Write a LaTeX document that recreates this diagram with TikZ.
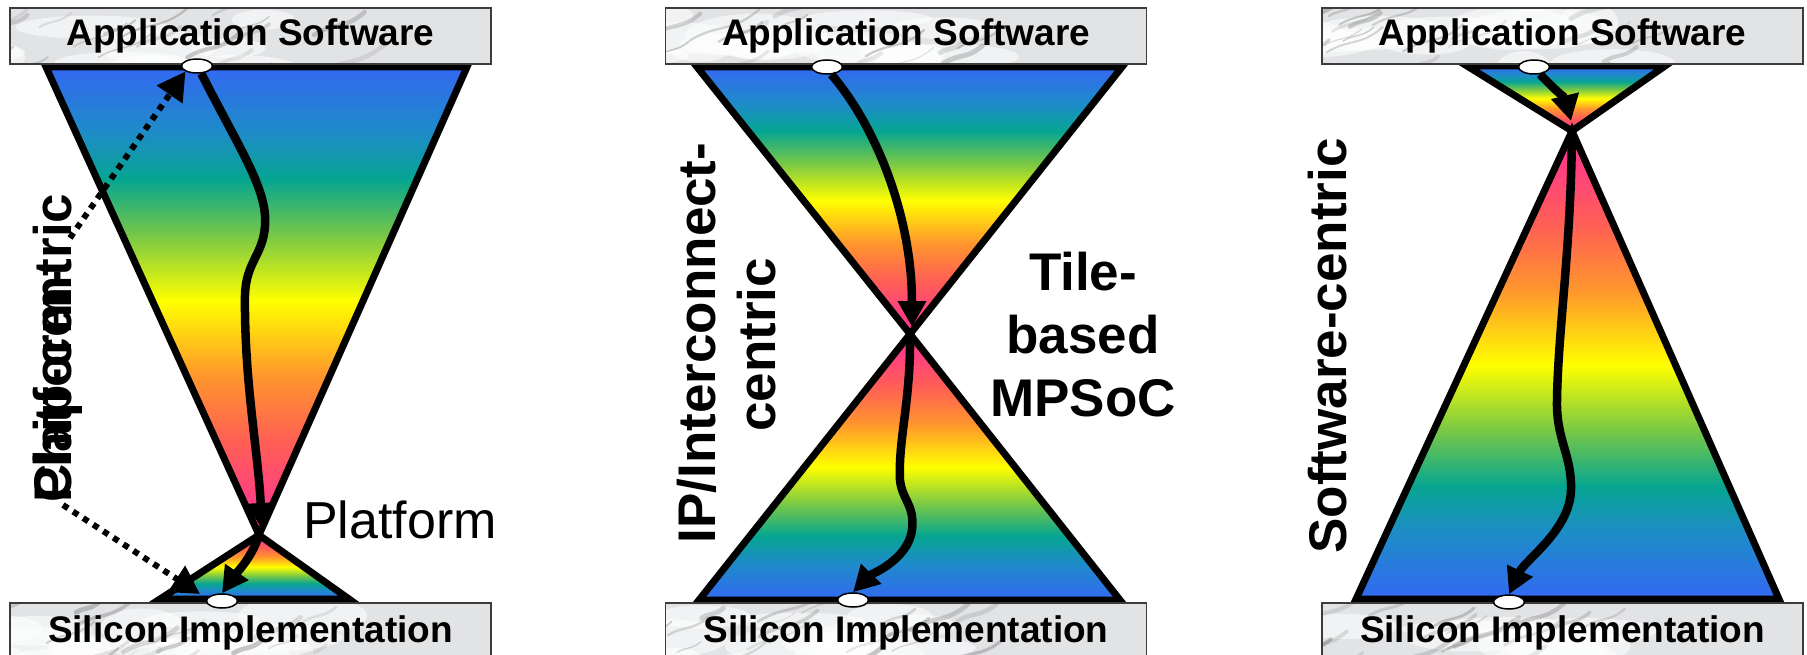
\documentclass[tikz,border=0pt]{standalone}
\usepackage{fontspec}
\setmainfont{Liberation Sans}
\usetikzlibrary{arrows.meta,shapes.geometric}

\definecolor{rbBlue}{RGB}{51,104,242}
\definecolor{rbSky}{RGB}{30,140,200}
\definecolor{rbTeal}{RGB}{6,165,145}
\definecolor{rbGreen}{RGB}{120,200,70}
\definecolor{rbYellow}{RGB}{255,255,0}
\definecolor{rbOrange}{RGB}{255,150,45}
\definecolor{rbRed}{RGB}{255,95,85}
\definecolor{rbPink}{RGB}{255,60,135}
\definecolor{marble}{RGB}{226,227,229}
\definecolor{marbleEdge}{RGB}{60,60,60}

% blue at the base, pink at the tip; 25bp..75bp spans the filled shape
\pgfdeclareverticalshading{rainbow}{100bp}{color(0bp)=(rbBlue); color(25bp)=(rbBlue); color(32bp)=(rbSky); color(37bp)=(rbTeal); color(43bp)=(rbGreen); color(50bp)=(rbYellow); color(58bp)=(rbOrange); color(65bp)=(rbRed); color(72bp)=(rbPink); color(75bp)=(rbPink); color(100bp)=(rbPink)}

\pgfmathsetseed{11}

\begin{document}
\begin{tikzpicture}[x=1pt,y=-1pt,
  cone/.style={draw=black, line width=7pt, line join=miter, shade, shading=rainbow},
  conedown/.style={cone, shading angle=180},
  veined/.style={path picture={
      \begin{scope}[shift={(path picture bounding box.center)}]
        \foreach \k in {1,...,16}{
          \pgfmathsetmacro{\xa}{-260+520*rnd}
          \pgfmathsetmacro{\ya}{-30+60*rnd}
          \pgfmathsetmacro{\len}{25+55*rnd}
          \pgfmathsetmacro{\wd}{8+14*rnd}
          \fill[white, opacity=0.55] (\xa,\ya) ellipse [x radius=\len pt, y radius=\wd pt];
        }
        \foreach \k in {1,...,26}{
          \pgfmathsetmacro{\xa}{-260+520*rnd}
          \pgfmathsetmacro{\ya}{-30+60*rnd}
          \pgfmathsetmacro{\len}{20+50*rnd}
          \pgfmathsetmacro{\wd}{1+4*rnd}
          \pgfmathsetmacro{\op}{0.15+0.25*rnd}
          \draw[black!55, line width=\wd pt, opacity=\op, line cap=round]
            (\xa,\ya) .. controls (\xa+0.4*\len,\ya-0.25*\len) and (\xa+0.6*\len,\ya-0.1*\len) .. (\xa+\len,\ya-0.45*\len);
        }
      \end{scope}}},
  layerbox/.style={draw=marbleEdge, line width=1.5pt, fill=marble, veined, minimum width=481pt,
    minimum height=56pt, inner sep=0pt, font=\fontsize{37}{44}\selectfont\bfseries,
    text height=27pt, text depth=8pt},
  port/.style={ellipse, draw=black, line width=1.5pt, fill=white, minimum width=31pt,
    minimum height=14pt, inner sep=0pt},
  flow/.style={line width=8.5pt, -{Triangle[length=26pt,width=27pt]}},
  hint/.style={line width=6pt, dash pattern=on 6pt off 6pt, -{Triangle[length=28pt,width=30pt]}},
  vlabel/.style={font=\fontsize{53}{60}\selectfont\bfseries, inner sep=0pt, rotate=90}
]
\useasboundingbox (0,0) rectangle (1807,655);

% ---------- corner points of the cones ----------
\coordinate (LtA) at (46,67);   \coordinate (LtB) at (467,67);
\coordinate (Lw)  at (259,535);
\coordinate (LbA) at (160,599); \coordinate (LbB) at (349,599);

\coordinate (MtA) at (697,67);  \coordinate (MtB) at (1122,67);
\coordinate (Mw)  at (910,334);
\coordinate (MbA) at (699,600); \coordinate (MbB) at (1120,600);

\coordinate (RtA) at (1467,66); \coordinate (RtB) at (1665,66);
\coordinate (Rw)  at (1572,131);
\coordinate (RbA) at (1356,599); \coordinate (RbB) at (1779,599);

% ---------- cones ----------
\path[conedown] (LtA) -- (LtB) -- (Lw) -- cycle;
\path[cone]     (Lw) -- (LbB) -- (LbA) -- cycle;
\path[conedown] (MtA) -- (MtB) -- (Mw) -- cycle;
\path[cone]     (Mw) -- (MbB) -- (MbA) -- cycle;
\path[conedown] (RtA) -- (RtB) -- (Rw) -- cycle;
\path[cone]     (Rw) -- (RbB) -- (RbA) -- cycle;

% ---------- layers ----------
\node[layerbox] (Ltop) at (250.5,36) {Application Software};
\node[layerbox, minimum height=60pt] (Lbot) at (250.5,633) {Silicon Implementation};
\node[layerbox] (Mtop) at (906,36) {Application Software};
\node[layerbox, minimum height=60pt] (Mbot) at (906,633) {Silicon Implementation};
\node[layerbox] (Rtop) at (1562.5,36) {Application Software};
\node[layerbox, minimum height=60pt] (Rbot) at (1562.5,633) {Silicon Implementation};

% ---------- entry / exit ports ----------
\node[port] (Lin)  at (197,66) {};
\node[port] (Lout) at (222,601) {};
\node[port] (Min)  at (827,67) {};
\node[port] (Mout) at (853,600) {};
\node[port] (Rin)  at (1534,67) {};
\node[port] (Rout) at (1509,602) {};

% ---------- design flows ----------
\coordinate (LfA) at (265,226);
\coordinate (LfB) at (245,295);
\coordinate (LfEnd) at (262,529);
\draw[flow] (Lin.-60) .. controls (240,150) and (268,190) .. (LfA)
  .. controls (263,255) and (246,262) .. (LfB)
  .. controls (244,380) and (258,450) .. (LfEnd);
\draw[flow] (Lw) .. controls (252,558) and (234,576) .. (Lout.north);

\coordinate (MfEnd) at (912,327);
\draw[flow] (Min.-60) .. controls (875,125) and (912,215) .. (MfEnd);
\coordinate (MfA) at (900,480);
\coordinate (MfB) at (912,530);
\draw[flow] (Mw) .. controls (911,400) and (898,440) .. (MfA)
  .. controls (902,500) and (915,505) .. (MfB)
  .. controls (908,560) and (870,575) .. (Mout.north);

\coordinate (RfEnd) at (1571,121);
\draw[flow] (Rin.-50) .. controls (1550,85) and (1566,100) .. (RfEnd);
\coordinate (RfA) at (1557,400);
\coordinate (RfB) at (1571,490);
\draw[flow] (Rw) .. controls (1571,250) and (1558,330) .. (RfA)
  .. controls (1556,440) and (1572,455) .. (RfB)
  .. controls (1570,530) and (1525,560) .. (Rout.north);

% ---------- dotted hints from the side label ----------
\coordinate (LhA) at (70,238);
\coordinate (LhB) at (63,505);
\coordinate (LhEnd) at (200,594);
\draw[hint] (LhA) -- (Lin.south west);
\draw[hint] (LhB) -- (LhEnd);

% ---------- labels ----------
\node[vlabel, anchor=base west] (chip) at (71,503) {Chip-centric};
\node[vlabel, anchor=base west] (plat) at (71,503) {Platform-};
\node[font=\fontsize{52}{60}\selectfont, inner sep=0pt, anchor=base west] (platform) at (303,538) {Platform};

\node[vlabel, anchor=base] (ipA) at (715,343) {IP/Interconnect-};
\node[vlabel, anchor=base] (ipB) at (775,345) {centric};
\node[font=\fontsize{53}{63}\selectfont\bfseries, inner sep=0pt, align=center, anchor=north] (tile) at (1083,252) {Tile-\\based\\MPSoC};

\node[vlabel, anchor=base] (sw) at (1346,346) {Software-centric};
\end{tikzpicture}
\end{document}
